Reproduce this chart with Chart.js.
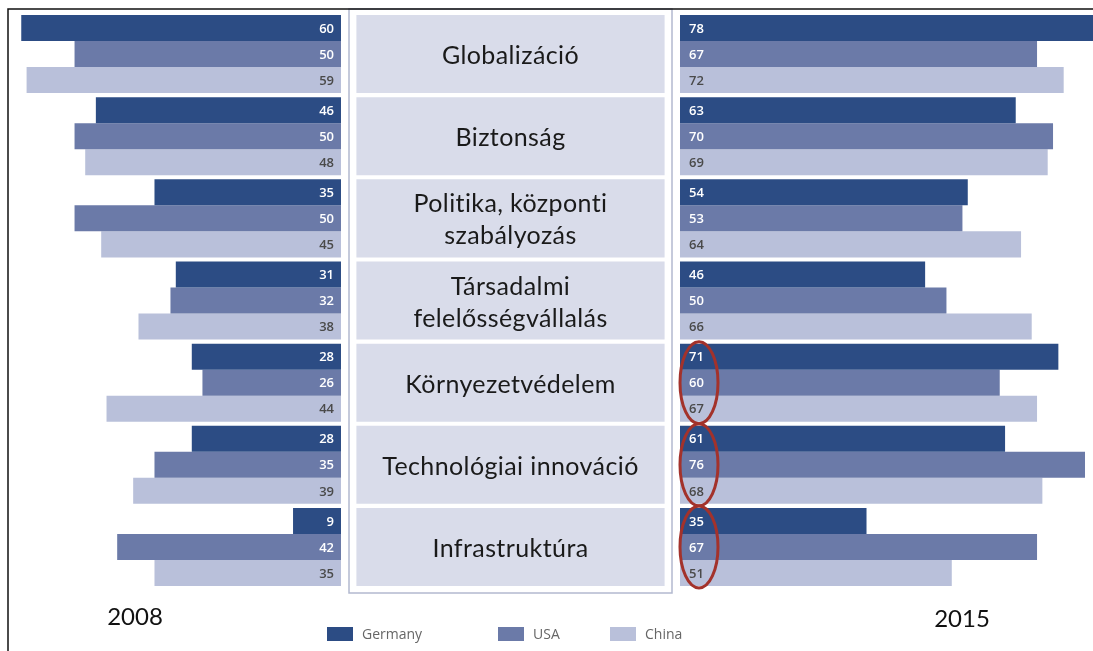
<!DOCTYPE html>
<html>
<head>
<meta charset="utf-8">
<script src="https://cdn.jsdelivr.net/npm/chart.js@4"></script>
<style>
  html, body { margin: 0; padding: 0; background: #fff; }
</style>
</head>
<body>
<canvas id="grafico" width="1093" height="651"></canvas>
<script>
// categorias (rótulos do centro), em linhas
const temas = [
  ['Globalizáció'],
  ['Biztonság'],
  ['Politika, központi', 'szabályozás'],
  ['Társadalmi', 'felelősségvállalás'],
  ['Környezetvédelem'],
  ['Technológiai innováció'],
  ['Infrastruktúra']
];
const paises = ['Germany', 'USA', 'China'];
const anos = ['2008', '2015'];

const germany2008 = [60, 46, 35, 31, 28, 28, 9];
const usa2008 = [50, 50, 50, 32, 26, 35, 42];
const china2008 = [59, 48, 45, 38, 44, 39, 35];

const germany2015 = [78, 63, 54, 46, 71, 61, 35];
const usa2015 = [67, 70, 53, 50, 60, 76, 67];
const china2015 = [72, 69, 64, 66, 67, 68, 51];

// categorias marcadas com elipse vermelha (lado 2015)
const destacados = [4, 5, 6];

const cores = ['#2c4c84', '#6b7aa8', '#b9c0da'];
const corTexto = ['#ffffff', '#ffffff', '#4a4a4a'];
const corCaixa = '#d9dcea';

function serie(label, dados, eixo, i) {
  return {
    label: label,
    data: dados,
    xAxisID: eixo,
    stack: label,
    backgroundColor: cores[i],
    borderWidth: 0,
    barPercentage: 1,
    categoryPercentage: 0.95
  };
}

const desenho = {
  id: 'desenho',
  beforeDatasetsDraw(chart) {
    const ctx = chart.ctx;
    ctx.save();
    ctx.strokeStyle = '#b3b9cf';
    ctx.lineWidth = 1.5;
    ctx.strokeRect(349, 9, 323, 584);
    ctx.restore();
  },
  afterDatasetsDraw(chart) {
    const ctx = chart.ctx;
    ctx.save();
    // valores nas barras
    ctx.font = '600 13px "Open Sans"';
    ctx.textBaseline = 'middle';
    for (let d = 0; d < 6; d++) {
      const meta = chart.getDatasetMeta(d);
      const ds = chart.data.datasets[d];
      const lado2008 = d < 3;
      ctx.fillStyle = corTexto[d % 3];
      ctx.textAlign = lado2008 ? 'right' : 'left';
      meta.data.forEach((bar, j) => {
        const x = lado2008 ? bar.base - 7 : bar.base + 9;
        ctx.fillText(ds.data[j], x, bar.y + 1);
      });
    }
    // texto das caixas do centro
    const xm = chart.scales.xMeio.getPixelForValue(0.5);
    ctx.fillStyle = '#1a1a1a';
    ctx.textAlign = 'center';
    ctx.font = '25px Lato';
    ctx.letterSpacing = '0.4px';
    temas.forEach((linhas, j) => {
      const yc = chart.scales.y.getPixelForValue(j) + 2;
      const alt = 32;
      linhas.forEach((t, k) => {
        ctx.fillText(t, xm, yc + (k - (linhas.length - 1) / 2) * alt);
      });
    });
    ctx.letterSpacing = '0px';
    // elipses vermelhas
    const x0 = chart.scales.x2015.getPixelForValue(0);
    ctx.strokeStyle = '#a3322b';
    ctx.lineWidth = 3;
    destacados.forEach(j => {
      const yc = chart.scales.y.getPixelForValue(j);
      ctx.beginPath();
      ctx.ellipse(x0 + 19, yc, 19, 41, 0, 0, Math.PI * 2);
      ctx.stroke();
    });
    ctx.restore();
  },
  afterDraw(chart) {
    const ctx = chart.ctx;
    ctx.save();
    // moldura
    ctx.strokeStyle = '#111';
    ctx.lineWidth = 1.5;
    ctx.beginPath();
    ctx.moveTo(8, 651);
    ctx.lineTo(8, 9);
    ctx.lineTo(1093, 9);
    ctx.stroke();
    // anos
    ctx.fillStyle = '#111';
    ctx.font = '24px Lato';
    ctx.textAlign = 'center';
    ctx.textBaseline = 'middle';
    ctx.fillText(anos[0], 135, 617);
    ctx.fillText(anos[1], 962, 619);
    // legenda
    const posLeg = [327, 498, 610];
    ctx.font = '14px "Open Sans"';
    ctx.textAlign = 'left';
    paises.forEach((p, i) => {
      ctx.fillStyle = cores[i];
      ctx.fillRect(posLeg[i], 627, 26, 14);
      ctx.fillStyle = '#666';
      ctx.fillText(p, posLeg[i] + 35, 635);
    });
    ctx.restore();
  }
};

new Chart(document.getElementById('grafico'), {
  type: 'bar',
  data: {
    labels: temas,
    datasets: [
      serie(paises[0], germany2008, 'x2008', 0),
      serie(paises[1], usa2008, 'x2008', 1),
      serie(paises[2], china2008, 'x2008', 2),
      serie(paises[0], germany2015, 'x2015', 0),
      serie(paises[1], usa2015, 'x2015', 1),
      serie(paises[2], china2015, 'x2015', 2),
      {
        label: 'tema',
        data: temas.map(() => [0, 1]),
        xAxisID: 'xMeio',
        grouped: false,
        backgroundColor: corCaixa,
        borderWidth: 0,
        barPercentage: 1,
        categoryPercentage: 0.95
      }
    ]
  },
  options: {
    indexAxis: 'y',
    responsive: false,
    animation: false,
    layout: { padding: { left: 9, right: 0, top: 13, bottom: 63 } },
    scales: {
      y: { display: false },
      x2008: {
        position: 'bottom', stack: 'linha', stackWeight: 332, weight: 1,
        reverse: true, min: 0, max: 62.3, stacked: false, display: false
      },
      xMeio: {
        position: 'bottom', stack: 'linha', stackWeight: 339, weight: 2,
        min: -0.05, max: 1.05, stacked: false, display: false
      },
      x2015: {
        position: 'bottom', stack: 'linha', stackWeight: 413, weight: 3,
        min: 0, max: 77.5, stacked: false, display: false
      }
    },
    plugins: {
      legend: { display: false },
      tooltip: { enabled: false }
    }
  },
  plugins: [desenho]
});
</script>
</body>
</html>
